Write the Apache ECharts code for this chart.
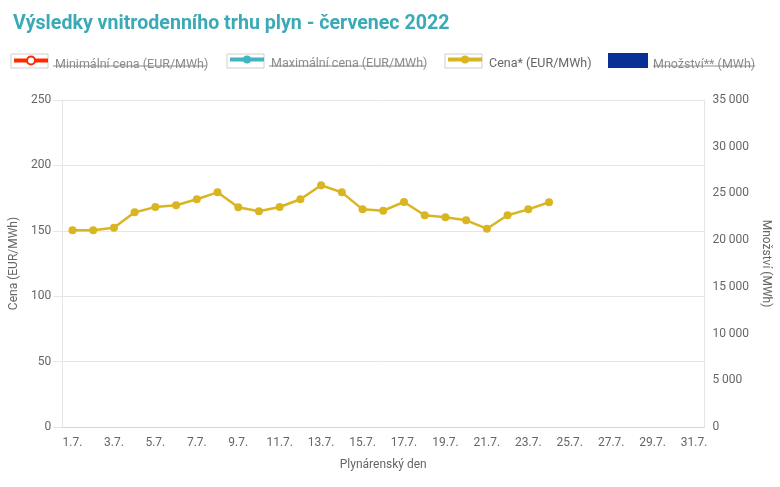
<!DOCTYPE html>
<html><head><meta charset="utf-8">
<script src="https://cdn.jsdelivr.net/npm/echarts@6/dist/echarts.min.js"></script>
<style>html,body{margin:0;padding:0;background:#fff}#c{width:780px;height:487px}</style>
</head><body><div id="c"></div>
<script>
var days = ['1.7.','2.7.','3.7.','4.7.','5.7.','6.7.','7.7.','8.7.','9.7.','10.7.','11.7.','12.7.','13.7.','14.7.','15.7.','16.7.','17.7.','18.7.','19.7.','20.7.','21.7.','22.7.','23.7.','24.7.','25.7.','26.7.','27.7.','28.7.','29.7.','30.7.','31.7.'];
var cena = [150.4,150.4,152.4,164.1,168.2,169.5,174.1,179.4,168.0,164.9,168.2,174.1,184.8,179.4,166.4,165.4,172.0,161.9,160.3,158.0,151.6,161.9,166.4,171.8];
var minCena = [];
var maxCena = [];
var mnozstvi = [];
var seriesNames = ['Minimální cena (EUR/MWh)','Maximální cena (EUR/MWh)','Cena* (EUR/MWh)','Množství** (MWh)'];
var hidden = [true,true,false,true];

var FONT = 'Roboto, "Noto Sans", sans-serif';
var FS = 12.5;
var legendLeft = [12, 228, 446, 608];
function textWidth(t, size){
  var c = document.createElement('canvas').getContext('2d');
  c.font = size + 'px ' + FONT; return c.measureText(t).width;
}
function fmt(v){ return String(v).replace(/\B(?=(\d{3})+(?!\d))/g,' '); }

var legends = seriesNames.map(function(n,i){
  var isBar = i===3;
  var col = hidden[i] ? '#8c8c8c' : '#666';
  return {
    data:[n], left:legendLeft[i], top: isBar ? 53 : 55.5, z:10, padding:0,
    itemWidth: isBar ? 40 : 34, itemHeight: isBar ? 15 : 10, itemGap: 6,
    icon: isBar ? 'rect' : undefined,
    lineStyle:{width:4},
    selectedMode:false,
    formatter: function(name){ return '{t|' + name + '}'; },
    textStyle:{color: col, fontSize:FS, fontFamily:FONT,
      rich:{t:{color:col, fontSize:FS, fontFamily:FONT, padding:[8,0,0, isBar ? 0 : 2]}}}
  };
});
var graphics = [];
seriesNames.forEach(function(n,i){
  var isBar = i===3;
  if(!isBar){
    graphics.push({type:'rect', left:legendLeft[i]-1.5, top:53.5, z:1,
      shape:{width:37,height:14}, style:{fill:'#fff', stroke:'#cfcfcf', lineWidth:1}});
  }
  if(hidden[i]){
    var x0 = legendLeft[i] + (isBar?40:34) + 5 + (isBar?0:2);
    var w = textWidth(n,FS);
    graphics.push({type:'line', z:20, shape:{x1:x0, y1:66, x2:x0+w, y2:66},
      style:{stroke:'#8c8c8c', lineWidth:1}});
  }
});

var chart = echarts.init(document.getElementById('c'));
chart.setOption({
  animation:false,
  title:{text:'Výsledky vnitrodenního trhu plyn - červenec 2022', left:8, top:9,
    textStyle:{color:'#3aaab7', fontSize:19.6, fontWeight:'bold', fontFamily:FONT}},
  legend: legends,
  graphic: graphics,
  grid:{left:62, right:75, top:100, bottom:60},
  xAxis:{type:'category', data:days, boundaryGap:true,
    name:'Plynárenský den', nameLocation:'middle', nameGap:32,
    nameTextStyle:{color:'#666', fontSize:12, fontFamily:FONT},
    axisLine:{lineStyle:{color:'#ccd6eb'}}, axisTick:{show:false},
    axisLabel:{interval:1, color:'#666', fontSize:12, fontFamily:FONT, margin:10}},
  yAxis:[
    {type:'value', min:0, max:250, interval:50, position:'left',
      name:'Cena (EUR/MWh)', nameLocation:'middle', nameGap:37, nameRotate:90,
      nameTextStyle:{color:'#666', fontSize:12, fontFamily:FONT},
      axisLine:{show:true, lineStyle:{color:'#e6e6e6'}},
      axisTick:{show:true, length:9, lineStyle:{color:'#e6e6e6'}},
      splitLine:{lineStyle:{color:'#e6e6e6'}},
      axisLabel:{color:'#666', fontSize:12, fontFamily:FONT, margin:11}},
    {type:'value', min:0, max:35000, interval:5000, position:'right',
      name:'Množství (MWh)', nameLocation:'middle', nameGap:50, nameRotate:-90,
      nameTextStyle:{color:'#666', fontSize:12, fontFamily:FONT},
      axisLine:{show:true, lineStyle:{color:'#e6e6e6'}},
      axisTick:{show:false}, splitLine:{show:false},
      axisLabel:{color:'#666', fontSize:12, fontFamily:FONT, margin:8, formatter:fmt}}
  ],
  series:[
    {name:seriesNames[0], type:'line', data:minCena, color:'#ff2a00', symbol:'emptyCircle', symbolSize:7,
      lineStyle:{width:3}, itemStyle:{color:'#ff2a00', borderColor:'#ff2a00'}},
    {name:seriesNames[1], type:'line', data:maxCena, color:'#42b6c0', symbol:'circle', symbolSize:8,
      lineStyle:{width:3}},
    {name:seriesNames[2], type:'line', data:cena, color:'#dab522', symbol:'circle', symbolSize:8,
      lineStyle:{width:2.5}},
    {name:seriesNames[3], type:'bar', data:mnozstvi, yAxisIndex:1, color:'#0a2f96'}
  ]
});
</script></body></html>
